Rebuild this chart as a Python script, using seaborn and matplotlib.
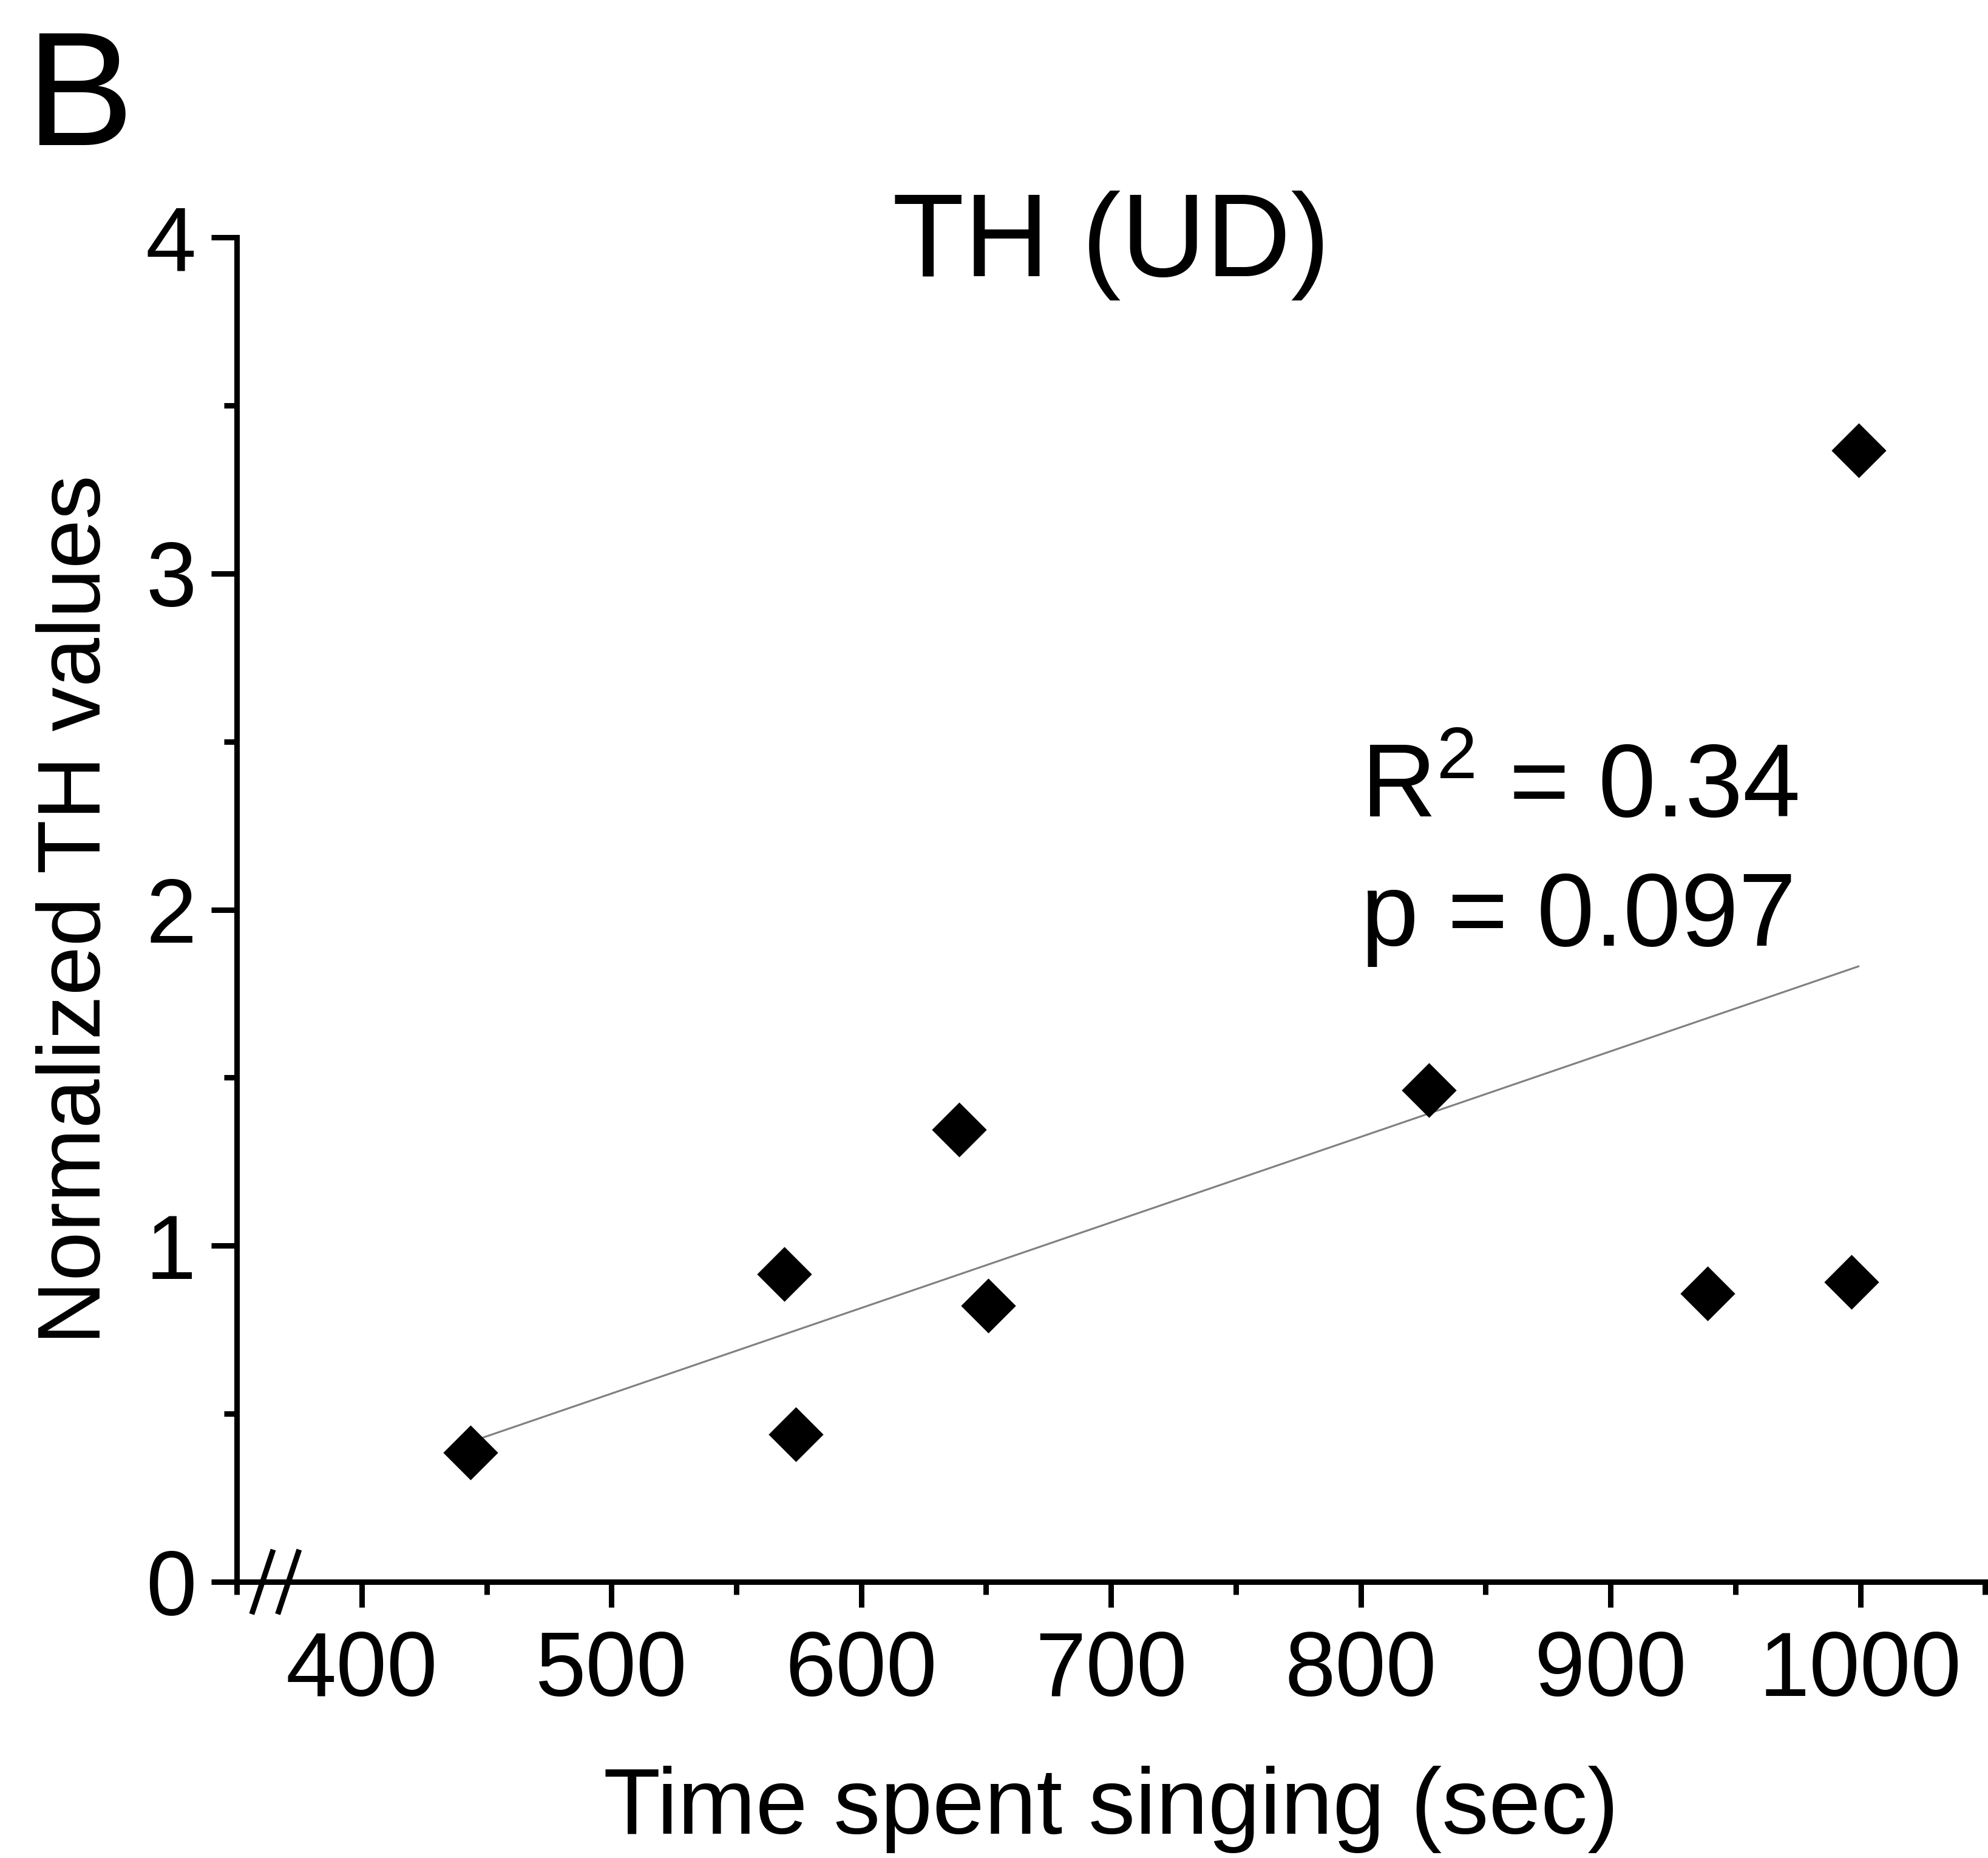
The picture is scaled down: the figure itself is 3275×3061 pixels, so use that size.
import numpy as np
import pandas as pd
import matplotlib
matplotlib.use("Agg")
import matplotlib.pyplot as plt
from matplotlib.ticker import MultipleLocator
import seaborn as sns

# values
time_singing = [443.5, 573.8, 569.2, 639.2, 650.9, 827.2, 938.8, 996.4, 999.3]
th_values = [0.385, 0.439, 0.915, 1.345, 0.822, 1.463, 0.858, 0.892, 3.366]
x_ticks = [400, 500, 600, 700, 800, 900, 1000]
y_ticks = [0, 1, 2, 3, 4]
r2_text = "R$^2$ = 0.34"
p_text = "p = 0.097"

df = pd.DataFrame({"time": time_singing, "th": th_values})

sns.set_style("ticks")
plt.rcParams["font.family"] = ["Liberation Sans", "DejaVu Sans"]
plt.rcParams["mathtext.fontset"] = "custom"
plt.rcParams["mathtext.rm"] = "Liberation Sans"
plt.rcParams["mathtext.it"] = "Liberation Sans"
plt.rcParams["text.color"] = "black"
plt.rcParams["axes.labelcolor"] = "black"

lw = 2.16
fig = plt.figure(figsize=(3275 / 300, 3061 / 300), dpi=300)
ax = fig.add_axes([0.1191, 0.1486, 0.9986 - 0.1191, 0.8723 - 0.1486])

sns.regplot(data=df, x="time", y="th", ci=None, scatter=False, ax=ax,
            line_kws={"color": "#808080", "linewidth": 0.75})
sns.scatterplot(data=df, x="time", y="th", marker="D", s=235, color="black",
                linewidth=0, ax=ax, zorder=3)

ax.set_xlim(350, 1050)
ax.set_ylim(0, 4)
ax.set_xticks(x_ticks)
ax.set_yticks(y_ticks)
ax.xaxis.set_minor_locator(MultipleLocator(50))
ax.yaxis.set_minor_locator(MultipleLocator(0.5))

for side in ["top", "right"]:
    ax.spines[side].set_visible(False)
for side in ["left", "bottom"]:
    ax.spines[side].set_linewidth(lw)
    ax.spines[side].set_color("black")

ax.tick_params(which="major", length=10, width=lw, labelsize=36, colors="black")
ax.tick_params(which="minor", length=5, width=lw, colors="black")
ax.tick_params(axis="x", which="major", pad=9)
ax.tick_params(axis="y", which="major", pad=6)

ax.set_xlabel("Time spent singing (sec)", fontsize=37, labelpad=20)
ax.set_ylabel("Normalized TH values", fontsize=35, labelpad=11)

# axis break marks on the x axis
for x0 in [364.6, 375.0]:
    ax.plot([x0, x0 - 8.6], [0.096, -0.096], color="black", linewidth=lw,
            clip_on=False, solid_capstyle="butt", zorder=5)

ax.text(0.5, 0.971, "TH (UD)", transform=ax.transAxes, ha="center",
        va="baseline", fontsize=46.5)
ax.text(800.0, 2.277, r2_text, ha="left", va="baseline", fontsize=41)
ax.text(800.0, 1.892, p_text, ha="left", va="baseline", fontsize=41)

fig.text(0.0128, 0.922, "B", ha="left", va="baseline", fontsize=64)

fig.savefig("out.png", dpi=300, facecolor="white")
